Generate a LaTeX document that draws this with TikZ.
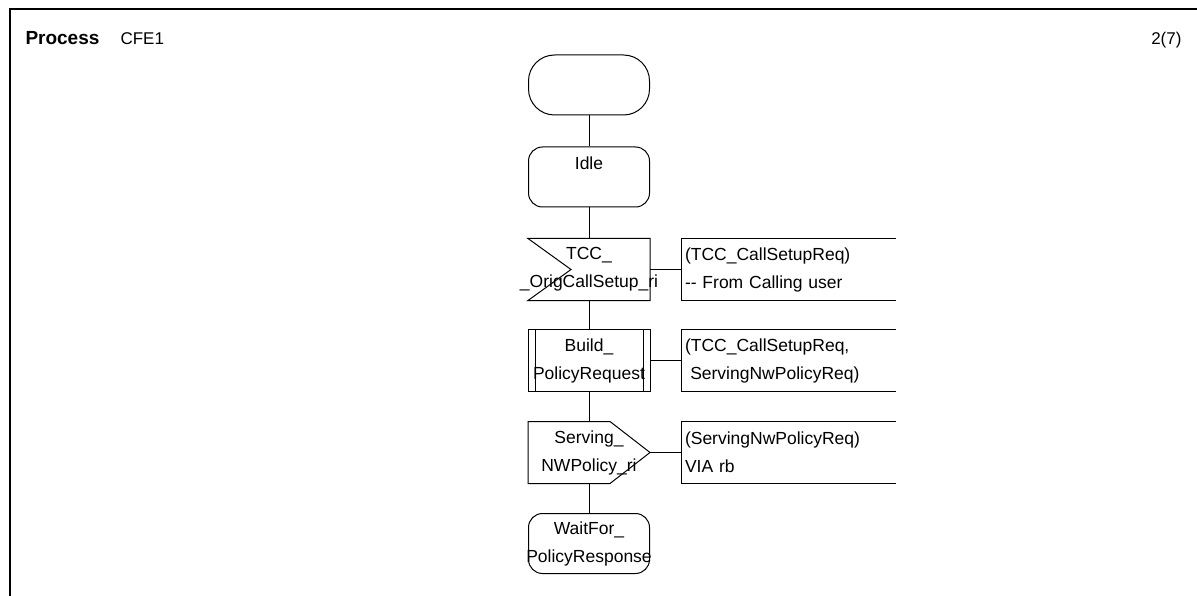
\documentclass[tikz,border=0pt]{standalone}
\usepackage{fontspec}
\setmainfont{Liberation Sans}
\usepackage{tikz}
\usetikzlibrary{calc}
\tikzset{
  sym/.style={rectangle,minimum width=121pt,minimum height=61pt,inner sep=0pt,align=center,font=\fontsize{17.5}{28}\selectfont},
  statebox/.style={sym,draw,rounded corners=14pt,minimum height=60pt},
  startbox/.style={sym,draw,rounded corners=26pt,minimum height=60pt},
  cmt/.style={rectangle,minimum width=213pt,minimum height=61pt,inner xsep=3pt,inner ysep=0pt,text width=207pt,align=left,font=\fontsize{17.5}{28}\selectfont},
  head/.style={inner sep=0pt,font=\fontsize{17}{20}\selectfont},
}
\def\symnode{\node[sym]}
\def\statenode{\node[statebox]}
\def\cmtnode{\node[cmt]}
\def\drawbracket#1{\draw (#1.north east) -- (#1.north west) -- (#1.south west) -- (#1.south east);}
\def\wide#1{\makebox[0pt]{#1}} % long names run over the symbol edges

\begin{document}
\begin{tikzpicture}[x=1pt,y=-1pt,line width=1pt]
\useasboundingbox (0,0) rectangle (1197,596);
\draw[line width=1.3pt] (1197,9) -- (10,9) -- (10,596);

% page header
\node[head,anchor=base west,font=\fontsize{19}{20}\selectfont\bfseries] (proc) at (25,45) {Process};
\node[head,anchor=base west] (pname) at (120,45) {CFE1};
\node[head,anchor=base east] (page) at (1182,45) {2(7)};

\coordinate (o) at (589,85); % centre of the start symbol, the rest is relative to it
\node[startbox] (start) at (o) {};
\statenode (idle) at ($ (o) + (0,92) $) {Idle\\\mbox{}};
\draw (start.south) -- (idle.north);

% input of the call setup
\symnode (orig) at ($ (o) + (0,184.5) $) {TCC\_\\\wide{\_OrigCallSetup\_ri}};
\draw (orig.north west) -- (orig.north east) -- (orig.south east) -- (orig.south west) -- ($ (orig.west) + (43,0) $) -- cycle;
\cmtnode (c_orig) at ($ (o) + (199.5,184.5) $) {(TCC\_CallSetupReq)\\-{}- From Calling user};
\drawbracket{c_orig}
\draw (idle.south) -- (orig.north);
\draw (orig.east) -- (c_orig.west);

% procedure call
\symnode (build) at ($ (o) + (0,275.5) $) {Build\_\\\wide{PolicyRequest}};
\draw (build.north west) rectangle (build.south east);
\draw ($ (build.north west) + (7,0) $) -- ($ (build.south west) + (7,0) $);
\draw ($ (build.north east) - (7,0) $) -- ($ (build.south east) - (7,0) $);
\cmtnode (c_build) at ($ (o) + (199.5,275.5) $) {(TCC\_CallSetupReq,\\\hspace*{0.3em}ServingNwPolicyReq)};
\drawbracket{c_build}
\draw (orig.south) -- (build.north);
\draw (build.east) -- (c_build.west);

% output towards rb
\symnode (serv) at ($ (o) + (0,367.5) $) {Serving\_\\NWPolicy\_ri};
\draw (serv.north west) -- ($ (serv.north east) - (40,0) $) -- (serv.east) -- ($ (serv.south east) - (40,0) $) -- (serv.south west) -- cycle;
\cmtnode (c_serv) at ($ (o) + (199.5,367.5) $) {(ServingNwPolicyReq)\\VIA rb};
\drawbracket{c_serv}
\draw (build.south) -- (serv.north);
\draw (serv.east) -- (c_serv.west);

\statenode (wait) at ($ (o) + (0,458.5) $) {WaitFor\_\\\wide{PolicyResponse}};
\draw (serv.south) -- (wait.north);
\end{tikzpicture}
\end{document}
